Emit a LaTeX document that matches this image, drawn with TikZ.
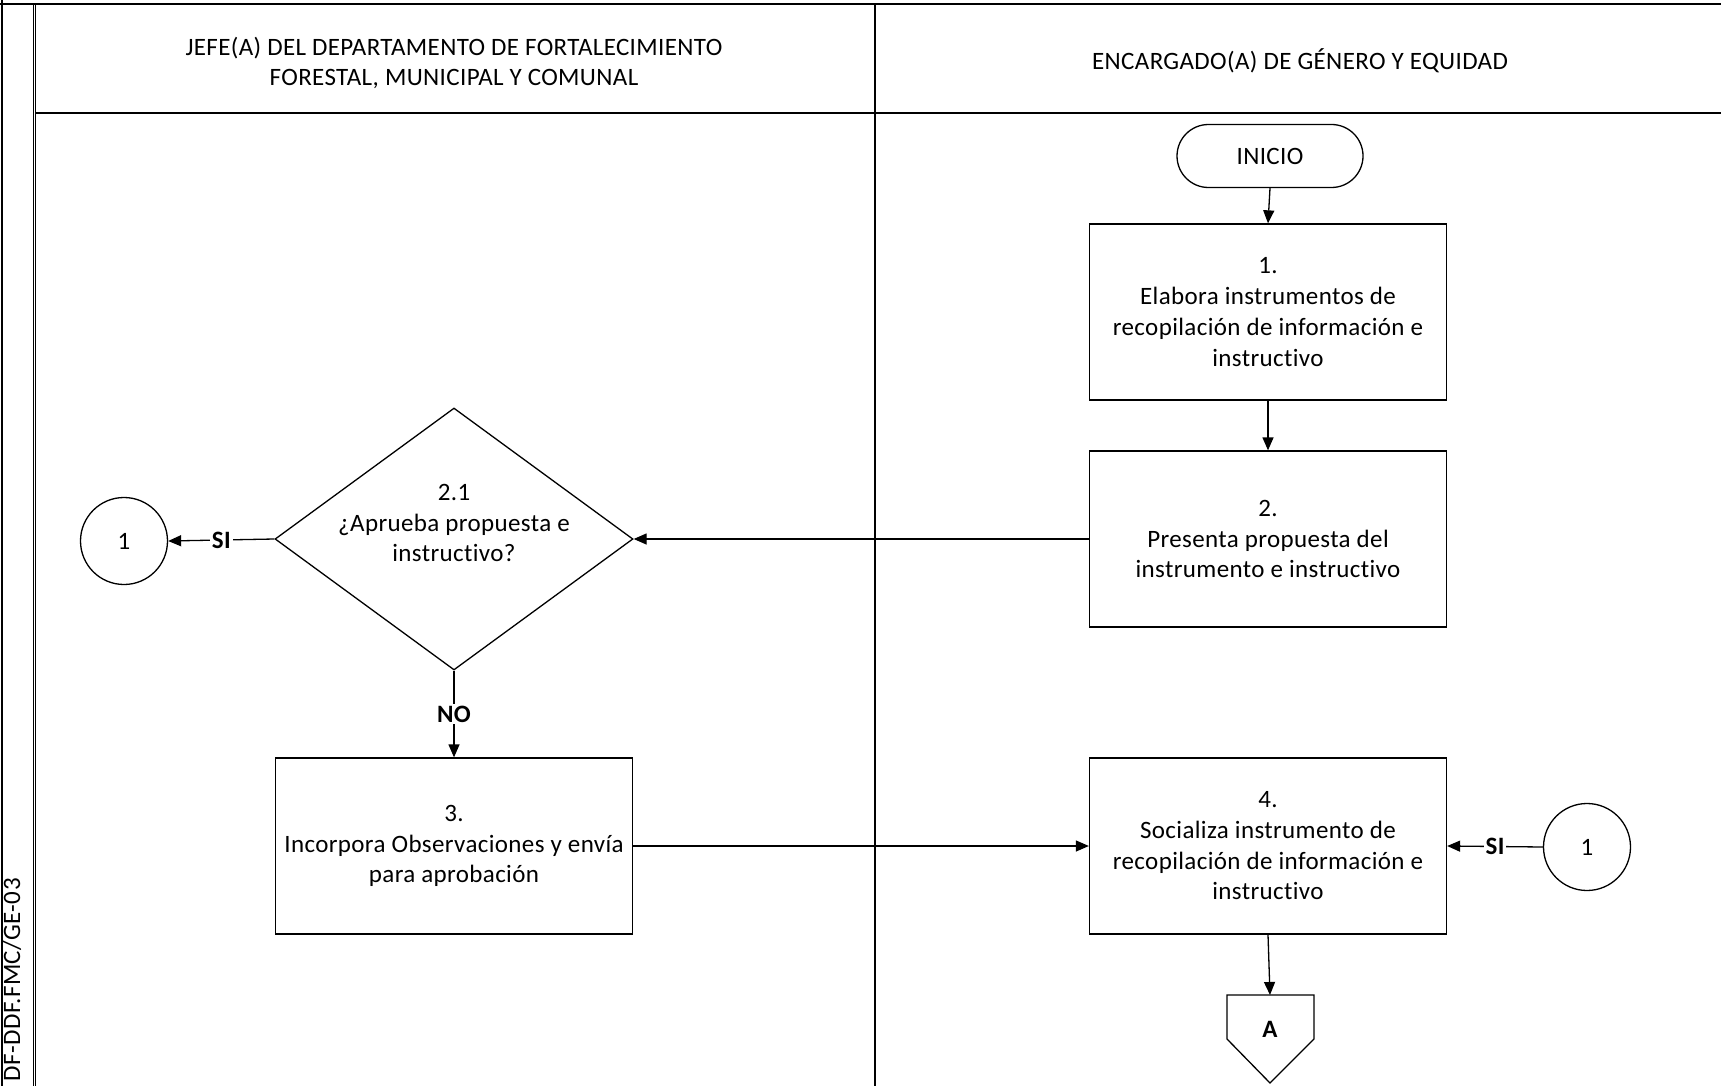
\documentclass[tikz,border=0pt]{standalone}
\usepackage{fontspec}
\setmainfont{Carlito}[LetterSpace=1.5,Ligatures=NoCommon]
\usetikzlibrary{shapes.geometric,shapes.misc,arrows.meta}
\begin{document}
\begin{tikzpicture}[x=1pt,y=-1pt,
  every node/.style={font=\fontsize{25}{30.7}\selectfont},
  proc/.style={draw, line width=1.3pt, minimum width=357pt, minimum height=176pt, align=center, inner sep=0pt},
  deci/.style={draw, diamond, line width=1.3pt, minimum width=358pt, minimum height=262pt, inner sep=0pt},
  conn/.style={draw, circle, line width=1.3pt, minimum size=87pt, inner sep=0pt},
  term/.style={draw, rounded rectangle, line width=1.3pt, minimum width=186pt, minimum height=63pt, inner sep=0pt},
  flow/.style={line width=1.3pt, -{Triangle[length=13pt,width=11pt]}},
  lbl/.style={fill=white, font=\fontsize{25}{27}\selectfont\bfseries, inner sep=2pt},
  txt/.style={align=center, inner sep=0pt}
]
\useasboundingbox (0,0) rectangle (1721,1086);
\fill[white] (0,0) rectangle (1721,1086);

% frame
\draw[line width=2.5pt] (0,4) -- (1721,4);
\draw[line width=2.5pt] (2,0) -- (2,1086);
\draw[line width=0.8pt] (33.5,4) -- (33.5,1086);
\draw[line width=0.8pt] (35.5,4) -- (35.5,1086);
\draw[line width=2pt] (35,113) -- (1721,113);
\draw[line width=1.5pt] (875,4) -- (875,1086);

% lane headers
\node[txt] (h1) at (454,63) {JEFE(A) DEL DEPARTAMENTO DE FORTALECIMIENTO\\FORESTAL, MUNICIPAL Y COMUNAL};
\node[txt] (h2) at (1300,61) {ENCARGADO(A) DE GÉNERO Y EQUIDAD};
\node[rotate=90, anchor=base east, inner sep=0pt] (code) at (20,878) {DF-DDF.FMC/GE-03};

% nodes
\node[term] (ini) at (1270,156) {INICIO};
\node[proc] (b1) at (1268,312) {1.\\Elabora instrumentos de\\recopilación de información e\\instructivo};
\node[proc] (b2) at (1268,539) {2.\\Presenta propuesta del\\instrumento e instructivo};
\node[deci] (d21) at (454,539) {};
\node[txt] (d21t) at (454,523) {2.1\\¿Aprueba propuesta e\\instructivo?};
\node[conn] (c1l) at (124,541) {1};
\node[proc] (b3) at (454,846) {3.\\Incorpora Observaciones y envía\\para aprobación};
\node[proc] (b4) at (1268,846) {4.\\Socializa instrumento de\\recopilación de información e\\instructivo};
\node[conn] (c1r) at (1587,847) {1};

% off-page connector A
\coordinate (Atop) at (1270,995);
\draw[line width=1.3pt] (1227,995) -- (1314,995) -- (1314,1039) -- (1270,1083) -- (1227,1039) -- cycle;
\node[font=\fontsize{25}{27}\selectfont\bfseries] (A) at (1270,1029) {A};

% connectors
\draw[flow] (ini.south) -- (b1.north);
\draw[flow] (b1.south) -- (b2.north);
\draw[flow] (b2.west) -- (d21.east);
\draw[flow] (d21.west) -- node[lbl] {SI} (c1l.east);
\draw[flow] (d21.south) -- node[lbl] {NO} (b3.north);
\draw[flow] (b3.east) -- (b4.west);
\draw[flow] (c1r.west) -- node[lbl] {SI} (b4.east);
\draw[flow] (b4.south) -- (Atop);
\end{tikzpicture}
\end{document}
